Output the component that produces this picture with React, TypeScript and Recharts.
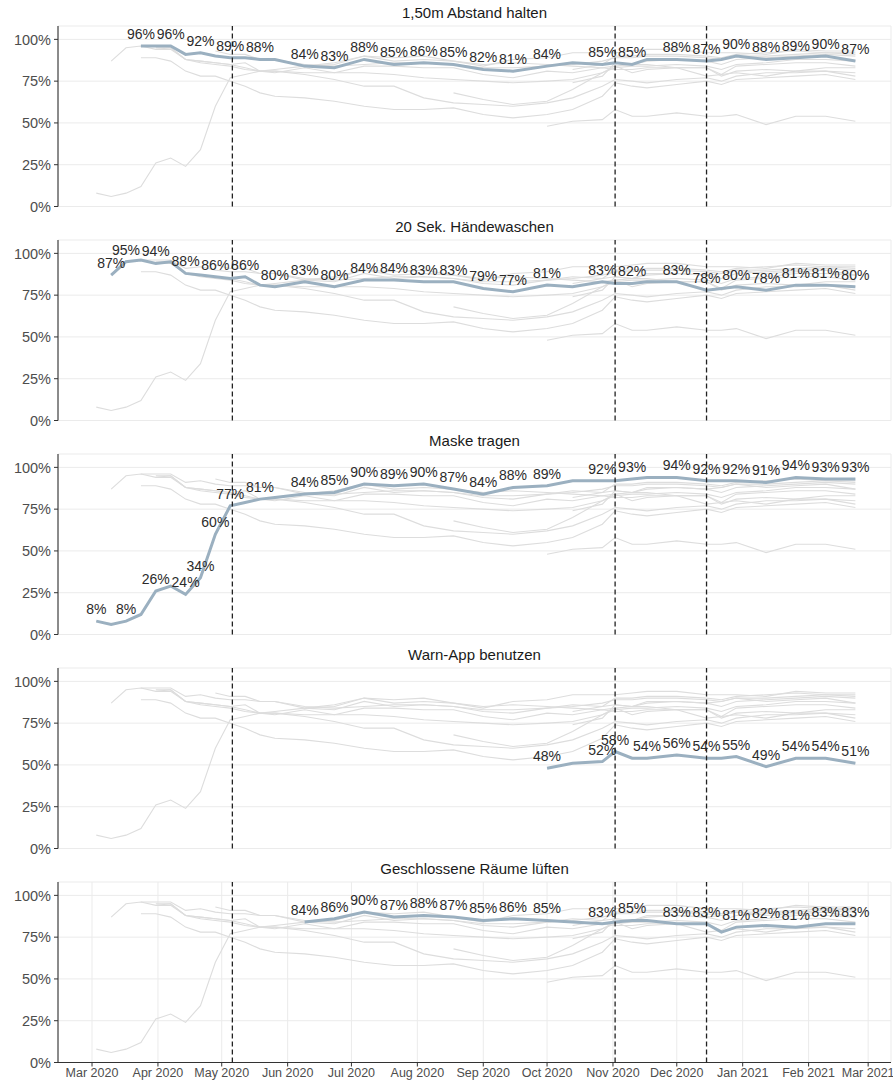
import React from "react";
import { LineChart, Line, XAxis, YAxis, CartesianGrid, ReferenceLine } from "recharts";

const _ = null;

// survey waves (COSMO)
const waveDates = [
  "2020-03-03", "2020-03-10", "2020-03-17", "2020-03-24", "2020-03-31",
  "2020-04-07", "2020-04-14", "2020-04-21", "2020-04-28", "2020-05-05",
  "2020-05-12", "2020-05-19", "2020-05-26", "2020-06-09", "2020-06-23",
  "2020-07-07", "2020-07-21", "2020-08-04", "2020-08-18", "2020-09-01",
  "2020-09-15", "2020-10-01", "2020-10-13", "2020-10-27", "2020-11-02",
  "2020-11-10", "2020-11-17", "2020-12-01", "2020-12-15", "2020-12-22",
  "2020-12-29", "2021-01-12", "2021-01-26", "2021-02-09", "2021-02-23",
];

const abstand = [_, _, _, 96, 96, 96, 91, 92, 90, 89, 89, 88, 88, 84, 83, 88, 85, 86, 85, 82, 81, 84, 86, 85, 86, 85, 88, 88, 87, 88, 90, 88, 89, 90, 87];
const haende = [_, 87, 95, 96, 94, 95, 88, 87, 86, 85, 86, 81, 80, 83, 80, 84, 84, 83, 83, 79, 77, 81, 80, 83, 82, 82, 83, 83, 78, 79, 80, 78, 81, 81, 80];
const maske = [8, 6, 8, 12, 26, 29, 24, 34, 60, 77, 79, 81, 82, 84, 85, 90, 89, 90, 87, 84, 88, 89, 92, 92, 92, 93, 94, 94, 92, 92, 92, 91, 94, 93, 93];
const warnApp = [_, _, _, _, _, _, _, _, _, _, _, _, _, _, _, _, _, _, _, _, _, 48, 51, 52, 58, 54, 54, 56, 54, 54, 55, 49, 54, 54, 51];
const lueften = [_, _, _, _, _, _, _, _, _, _, _, _, _, 84, 86, 90, 87, 88, 87, 85, 86, 85, 84, 83, 84, 85, 85, 83, 83, 78, 81, 82, 81, 83, 83];

// other measures, only drawn as grey context lines
const menschenmengen = [_, _, _, 89, 89, 87, 81, 78, 78, 75, 72, 68, 66, 65, 63, 60, 58, 58, 59, 55, 53, 55, 58, 66, 74, 72, 71, 73, 75, 73, 76, 77, 78, 79, 76];
const kontakte = [_, _, _, _, 94, 94, 88, 86, 85, 84, 82, 81, 81, 79, 76, 72, 72, 65, 62, 61, 60, 62, 65, 72, 76, 75, 74, 76, 77, 75, 78, 80, 80, 81, 78];
const husten = [_, _, _, _, 95, 95, 88, 87, 86, 85, 83, 81, 81, 80, 80, 80, 79, 77, 76, 75, 74, 75, 76, 80, 83, 84, 84, 85, 84, 82, 85, 86, 88, 88, 87];
const zuhause = [_, _, _, _, _, _, _, _, 93, 91, 91, 88, 88, 85, 84, 85, 86, 86, 85, 83, 83, 84, 85, 87, 89, 89, 90, 90, 89, 88, 90, 90, 91, 92, 92];
const feiern = [_, _, _, _, _, _, _, _, _, _, _, _, _, _, _, _, _, _, 68, 64, 61, 63, 70, 80, 84, 80, 82, 83, 83, 79, 84, 85, 86, 86, 84];
const reisen = [_, _, _, _, _, _, _, _, _, _, _, _, _, _, _, _, _, _, _, _, _, _, 74, 78, 86, 85, 87, 88, 87, 85, 88, 89, 90, 91, 90];
const besuche = [_, _, _, _, _, _, _, _, _, _, _, _, _, _, _, _, _, _, _, _, _, _, 82, 85, 90, 90, 91, 91, 90, 89, 91, 92, 93, 92, 91];

const eventDates = ["2020-05-06", "2020-11-02", "2020-12-15"];

const monthTicks = [
  "2020-03-01", "2020-04-01", "2020-05-01", "2020-06-01", "2020-07-01", "2020-08-01", "2020-09-01",
  "2020-10-01", "2020-11-01", "2020-12-01", "2021-01-01", "2021-02-01", "2021-03-01",
];
const monthLabels = [
  "Mar 2020", "Apr 2020", "May 2020", "Jun 2020", "Jul 2020", "Aug 2020", "Sep 2020",
  "Oct 2020", "Nov 2020", "Dec 2020", "Jan 2021", "Feb 2021", "Mar 2021",
];
const yTicks = [0, 25, 50, 75, 100];

const panels = [
  { key: "abstand", title: "1,50m Abstand halten", values: abstand },
  { key: "haende", title: "20 Sek. Händewaschen", values: haende },
  { key: "maske", title: "Maske tragen", values: maske },
  { key: "warnApp", title: "Warn-App benutzen", values: warnApp },
  { key: "lueften", title: "Geschlossene Räume lüften", values: lueften },
];

const greySeries: Record<string, (number | null)[]> = {
  abstand, haende, maske, warnApp, lueften,
  menschenmengen, kontakte, husten, zuhause, feiern, reisen, besuche,
};

const W = 893;
const PANEL_H = 214;
const LAST_H = 229;
const PLOT_TOP = 26;
const PLOT_H = 180.5;
const Y_AXIS_W = 58;
const RIGHT = 2;
const Y_MAX = 108;
const DAY = 86400000;
const X_MIN = Date.UTC(2020, 1, 14);
const X_MAX = Date.UTC(2021, 2, 11, 18);
const FONT = "'Liberation Sans', Arial, Helvetica, sans-serif";
const HIGHLIGHT = "#9bb0c0";

const waveTs = waveDates.map((d) => Date.parse(d));
const monthTs = monthTicks.map((d) => Date.parse(d));

const rows = waveTs.map((t, i) => {
  const row: Record<string, number | null> = { t };
  Object.keys(greySeries).forEach((k) => {
    row[k] = greySeries[k][i];
  });
  return row;
});

// like geom_text(check_overlap = TRUE): skip a label if it hits one already drawn
const pxPerDay = (W - Y_AXIS_W - RIGHT) / ((X_MAX - X_MIN) / DAY);
const pxPerPct = PLOT_H / Y_MAX;
function labelMask(values: (number | null)[]) {
  const boxes: number[][] = [];
  return values.map((v, i) => {
    if (v == null) return false;
    const cx = ((waveTs[i] - X_MIN) / DAY) * pxPerDay;
    const cy = -v * pxPerPct;
    const w = String(v).length * 7.8 + 12.4;
    const h = 9.5;
    const b = [cx - w / 2, cx + w / 2, cy - h / 2, cy + h / 2];
    const hit = boxes.some((o) => b[0] < o[1] && b[1] > o[0] && b[2] < o[3] && b[3] > o[2]);
    if (hit) return false;
    boxes.push(b);
    return true;
  });
}

function Panel({ panel, index, last }: { panel: (typeof panels)[number]; index: number; last: boolean }) {
  const h = last ? LAST_H : PANEL_H;
  const xAxisH = h - PLOT_TOP - PLOT_H;
  const shown = labelMask(panel.values);

  const renderLabel = (props: any) => {
    const { x, y, index: i } = props;
    const v = panel.values[i];
    if (v == null || !shown[i] || x == null || y == null) return <g key={`n${i}`} />;
    return (
      <text key={`l${i}`} x={x} y={y - 7} textAnchor="middle" fontSize={14} fill="#2b2b2b" fontFamily={FONT}>
        {v}%
      </text>
    );
  };

  return (
    <div style={{ position: "absolute", left: 0, top: index * PANEL_H, width: W, height: h }}>
      <LineChart width={W} height={h} data={rows} margin={{ top: PLOT_TOP, right: RIGHT, bottom: 0, left: 0 }}>
        <CartesianGrid stroke="#ebebeb" strokeWidth={1} />
        <XAxis
          dataKey="t"
          type="number"
          scale="linear"
          domain={[X_MIN, X_MAX]}
          allowDataOverflow
          ticks={monthTs}
          interval={0}
          tickFormatter={(t: number) => monthLabels[monthTs.indexOf(t)]}
          height={xAxisH}
          axisLine={last ? { stroke: "#333", strokeWidth: 1.1 } : false}
          tickLine={last ? { stroke: "#333" } : false}
          tickSize={4}
          tickMargin={2}
          tick={last ? { fill: "#4d4d4d", fontSize: 12.5, fontFamily: FONT } : false}
        />
        <YAxis
          type="number"
          domain={[0, Y_MAX]}
          ticks={yTicks}
          interval={0}
          allowDataOverflow
          width={Y_AXIS_W}
          tickFormatter={(v: number) => `${v}%`}
          axisLine={{ stroke: "#333", strokeWidth: 1.1 }}
          tickLine={{ stroke: "#333" }}
          tickSize={4}
          tickMargin={3}
          tick={{ fill: "#4d4d4d", fontSize: 14.5, fontFamily: FONT }}
        />
        {Object.keys(greySeries).map((k) => (
          <Line
            key={k}
            dataKey={k}
            type="linear"
            stroke="#dddddd"
            strokeWidth={1.1}
            dot={false}
            activeDot={false}
            isAnimationActive={false}
          />
        ))}
        <Line
          dataKey={panel.key}
          type="linear"
          stroke={HIGHLIGHT}
          strokeWidth={3}
          dot={false}
          activeDot={false}
          isAnimationActive={false}
          label={renderLabel}
        />
        {eventDates.map((d) => (
          <ReferenceLine
            key={d}
            x={Date.parse(d)}
            stroke="#222"
            strokeWidth={1.3}
            strokeDasharray="5 3"
            zIndex={3000}
          />
        ))}
      </LineChart>
      <div
        style={{
          position: "absolute",
          left: Y_AXIS_W,
          width: W - Y_AXIS_W - RIGHT,
          top: 4,
          textAlign: "center",
          fontSize: 15,
          lineHeight: "18px",
          color: "#1a1a1a",
          fontFamily: FONT,
        }}
      >
        {panel.title}
      </div>
    </div>
  );
}

export default function App() {
  return (
    <div style={{ position: "absolute", left: 0, top: 0, width: W, height: 1085, background: "#fff", fontFamily: FONT }}>
      {panels.map((p, k) => (
        <Panel key={p.key} panel={p} index={k} last={k === panels.length - 1} />
      ))}
    </div>
  );
}
